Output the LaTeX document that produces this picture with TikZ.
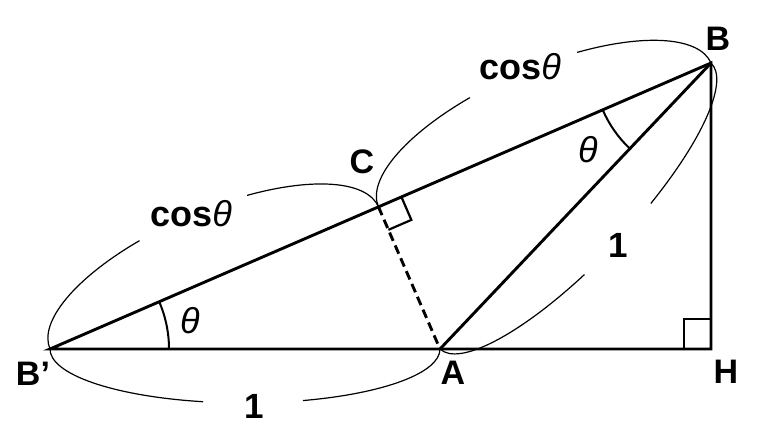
\documentclass[tikz,border=0pt]{standalone}
\usepackage{fontspec}
\setmainfont{Liberation Sans}
\usetikzlibrary{calc}

\begin{document}
\begin{tikzpicture}[x=1pt,y=1pt,
    side/.style={line width=2.9pt},
    brace/.style={line width=1.2pt},
    angarc/.style={line width=2pt},
    sqmark/.style={line width=2.2pt},
    lbl/.style={font=\bfseries\fontsize{34}{34}\selectfont},
    numlbl/.style={font=\bfseries\fontsize{35}{35}\selectfont},
    coslbl/.style={font=\bfseries\fontsize{36}{36}\selectfont}]
      \useasboundingbox (0,0) rectangle (768,442);
      \coordinate (Bp) at (50,93);
      \coordinate (A) at (440,93);
      \coordinate (H) at (711,93);
      \coordinate (B) at (711,379);
      \coordinate (C) at ($(Bp)!(A)!(B)$);
      % triangle
      \draw[side] (Bp) -- (H) -- (B) -- cycle;
      \draw[side] (A) -- (B);
      \draw[side,dash pattern=on 9pt off 5pt] (C) -- (A);
      % right angles
      \coordinate (c1) at ($(C)!25pt!(B)$);
      \coordinate (c2) at ($(C)!25pt!(A)$);
      \draw[sqmark] (c1) -- ($(c1)+(c2)-(C)$) -- (c2);
      \draw[sqmark] (684,93) -- (684,123) -- (711,123);
      % angles
      \draw[angarc] ($(Bp)+(0:119)$) arc[start angle=0,end angle=23.40,radius=119];
      \draw[angarc] ($(B)+(203.40:118)$) arc[start angle=203.40,end angle=226.54,radius=118];
      % braces
      \begin{scope}[shift={(245,93)}]
	\draw[brace] (180:195 and 54) arc[start angle=180,end angle=257.6,x radius=195,y radius=54];
	\draw[brace] (287.3:195 and 54) arc[start angle=287.3,end angle=360,x radius=195,y radius=54];
      \end{scope}
      \begin{scope}[shift={(214.25,164.07)},rotate=23.40]
	\draw[brace] (180:178.96 and 67) arc[start angle=180,end angle=107.5,x radius=178.96,y radius=67];
	\draw[brace] (69.4:178.96 and 67) arc[start angle=69.4,end angle=0,x radius=178.96,y radius=67];
      \end{scope}
      \begin{scope}[shift={(544.75,307.07)},rotate=23.40]
	\draw[brace] (180:181.15 and 67) arc[start angle=180,end angle=107.3,x radius=181.15,y radius=67];
	\draw[brace] (69.8:181.15 and 67) arc[start angle=69.8,end angle=0,x radius=181.15,y radius=67];
      \end{scope}
      \begin{scope}[shift={(575.5,236)},rotate=46.54]
	\draw[brace] (180:197 and 55) arc[start angle=180,end angle=257.2,x radius=197,y radius=55];
	\draw[brace] (285.8:197 and 55) arc[start angle=285.8,end angle=360,x radius=197,y radius=55];
      \end{scope}
      % labels
      \node[lbl] (lBp) at (33,68) {B’};
      \node[lbl] (lA) at (453,69) {A};
      \node[lbl] (lH) at (726,70) {H};
      \node[lbl] (lB) at (718,403) {B};
      \node[lbl] (lC) at (362,280) {C};
      \node[numlbl] (one1) at (254,36) {1};
      \node[numlbl] (one2) at (618,197) {1};
      \node[coslbl] (cos1) at (191,228) {cos{\mdseries\itshape θ}};
      \node[coslbl] (cos2) at (520,375) {cos{\mdseries\itshape θ}};
      \node[coslbl] (th1) at (190,121) {\mdseries\itshape θ};
      \node[coslbl] (th2) at (588,292) {\mdseries\itshape θ};
    \end{tikzpicture}
\end{document}
